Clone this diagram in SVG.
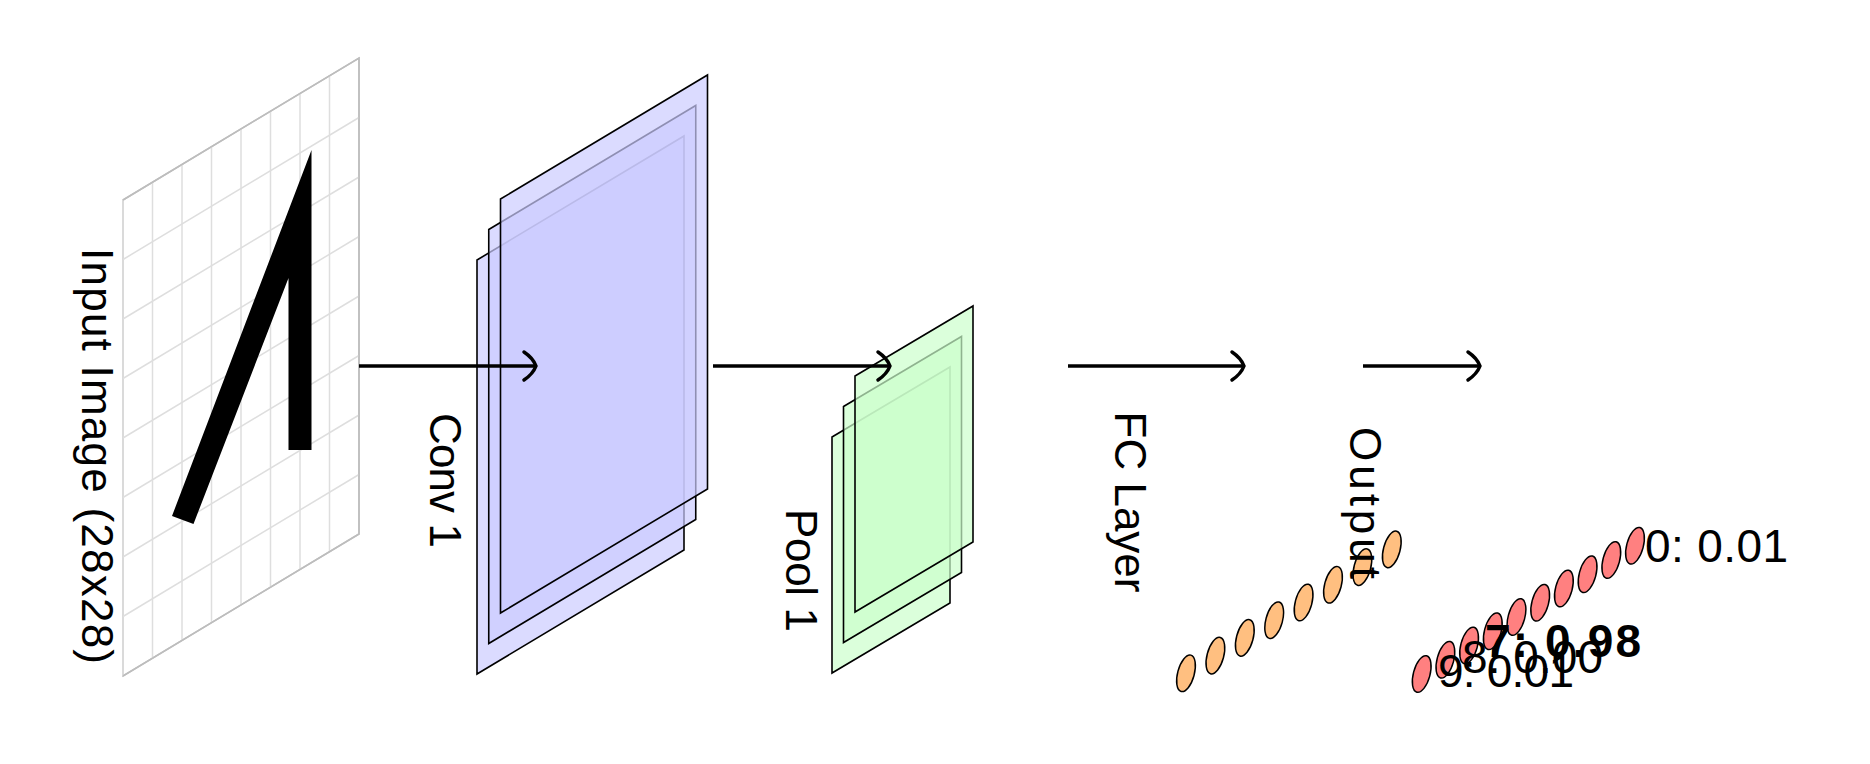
<svg xmlns="http://www.w3.org/2000/svg" width="1870" height="764" viewBox="0 0 1870 764">
<style>
text{font-family:"Liberation Sans","Noto Sans",sans-serif;font-size:44px;fill:#000}
.lbl{font-size:46px}
.grid{stroke:#dedede;stroke-width:1.5;fill:none}
.gedge{stroke:#bdbdbd;stroke-width:1.5;fill:none}
.conv{fill:#ccccff;fill-opacity:0.7;stroke:#000;stroke-width:1.6}
.pool{fill:#ccffcc;fill-opacity:0.7;stroke:#000;stroke-width:1.6}
.fcn{fill:#ffbf80;stroke:#000;stroke-width:1.5}
.outn{fill:#ff8080;stroke:#000;stroke-width:1.5}
.conn{stroke:#000;stroke-width:3.5;fill:none;stroke-linecap:butt}
.head{stroke:#000;stroke-width:3.5;fill:none;stroke-linecap:round;stroke-linejoin:round}
</style>
<defs>
<ellipse id="node" cx="0" cy="0" rx="8.3" ry="18.8" transform="rotate(15)"/>
<path id="chev" d="M-12,-14 Q-3,-8 0,0 Q-3,8 -12,14"/>
</defs>
<rect width="1870" height="764" fill="#fff"/>

<g id="input">
<polygon points="123,200 359,58 359,534 123,676" fill="#fff" class="gedge"/>
<g class="grid">
<line x1="152.5" y1="182.25" x2="152.5" y2="658.25"/>
<line x1="182" y1="164.5" x2="182" y2="640.5"/>
<line x1="211.5" y1="146.75" x2="211.5" y2="622.75"/>
<line x1="241" y1="129" x2="241" y2="605"/>
<line x1="270.5" y1="111.25" x2="270.5" y2="587.25"/>
<line x1="300" y1="93.5" x2="300" y2="569.5"/>
<line x1="329.5" y1="75.75" x2="329.5" y2="551.75"/>
<line x1="123" y1="259.5" x2="359" y2="117.5"/>
<line x1="123" y1="319" x2="359" y2="177"/>
<line x1="123" y1="378.5" x2="359" y2="236.5"/>
<line x1="123" y1="438" x2="359" y2="296"/>
<line x1="123" y1="497.5" x2="359" y2="355.5"/>
<line x1="123" y1="557" x2="359" y2="415"/>
<line x1="123" y1="616.5" x2="359" y2="474.5"/>
<line x1="123" y1="200" x2="123" y2="676"/>
</g>
<polyline points="123,200 359,58 359,534 123,676" class="gedge"/>
<polygon points="311.5,150 311.5,450 288.5,450 288.5,278 193.5,524 172,516" fill="#000"/>
<text transform="translate(82,456) rotate(90)" text-anchor="middle" textLength="416" lengthAdjust="spacing">Input Image (28x28)</text>
</g>

<g id="conv1">
<polygon class="conv" points="477,260 684,136 684,550 477,674"/>
<polygon class="conv" points="488.75,229.5 695.75,105.5 695.75,519.5 488.75,643.5"/>
<polygon class="conv" points="500.5,199 707.5,75 707.5,489 500.5,613"/>
<text transform="translate(430,480.5) rotate(90)" text-anchor="middle" textLength="135" lengthAdjust="spacing">Conv 1</text>
</g>

<g id="pool1">
<polygon class="pool" points="832,437 950,367 950,603 832,673"/>
<polygon class="pool" points="843.5,406.5 961.5,336.5 961.5,572.5 843.5,642.5"/>
<polygon class="pool" points="855,376 973,306 973,542 855,612"/>
<text transform="translate(786,570.5) rotate(90)" text-anchor="middle" textLength="123" lengthAdjust="spacing">Pool 1</text>
</g>

<g id="fc">
<text transform="translate(1115,502) rotate(90)" text-anchor="middle" textLength="181" lengthAdjust="spacing">FC Layer</text>
<use href="#node" class="fcn" x="1186" y="673.3"/>
<use href="#node" class="fcn" x="1215.4" y="655.6"/>
<use href="#node" class="fcn" x="1244.8" y="637.9"/>
<use href="#node" class="fcn" x="1274.2" y="620.2"/>
<use href="#node" class="fcn" x="1303.6" y="602.5"/>
<use href="#node" class="fcn" x="1333" y="584.8"/>
<use href="#node" class="fcn" x="1362.4" y="567.1"/>
<use href="#node" class="fcn" x="1391.8" y="549.4"/>
</g>

<g id="output">
<use href="#node" class="outn" x="1421.7" y="674"/>
<use href="#node" class="outn" x="1445.4" y="659.75"/>
<use href="#node" class="outn" x="1469.1" y="645.5"/>
<use href="#node" class="outn" x="1492.8" y="631.25"/>
<use href="#node" class="outn" x="1516.5" y="617"/>
<use href="#node" class="outn" x="1540.2" y="602.75"/>
<use href="#node" class="outn" x="1563.9" y="588.5"/>
<use href="#node" class="outn" x="1587.6" y="574.25"/>
<use href="#node" class="outn" x="1611.3" y="560"/>
<use href="#node" class="outn" x="1635" y="545.75"/>
<text transform="translate(1350,503) rotate(90)" text-anchor="middle" textLength="152" lengthAdjust="spacing">Output</text>
<text class="lbl" x="1438" y="687" textLength="136" lengthAdjust="spacing">9: 0.01</text>
<text class="lbl" x="1462" y="673" textLength="141" lengthAdjust="spacing">8: 0.00</text>
<text class="lbl" x="1485" y="657" font-weight="bold" textLength="156" lengthAdjust="spacing">7: 0.98</text>
<text class="lbl" x="1645" y="562" textLength="143" lengthAdjust="spacing">0: 0.01</text>
</g>

<g id="connectors">
<line class="conn" x1="359" y1="366" x2="535" y2="366"/>
<use href="#chev" class="head" x="536" y="366"/>
<line class="conn" x1="713" y1="366" x2="889" y2="366"/>
<use href="#chev" class="head" x="890" y="366"/>
<line class="conn" x1="1068" y1="366" x2="1243" y2="366"/>
<use href="#chev" class="head" x="1244" y="366"/>
<line class="conn" x1="1363" y1="366" x2="1479" y2="366"/>
<use href="#chev" class="head" x="1480" y="366"/>
</g>
</svg>
